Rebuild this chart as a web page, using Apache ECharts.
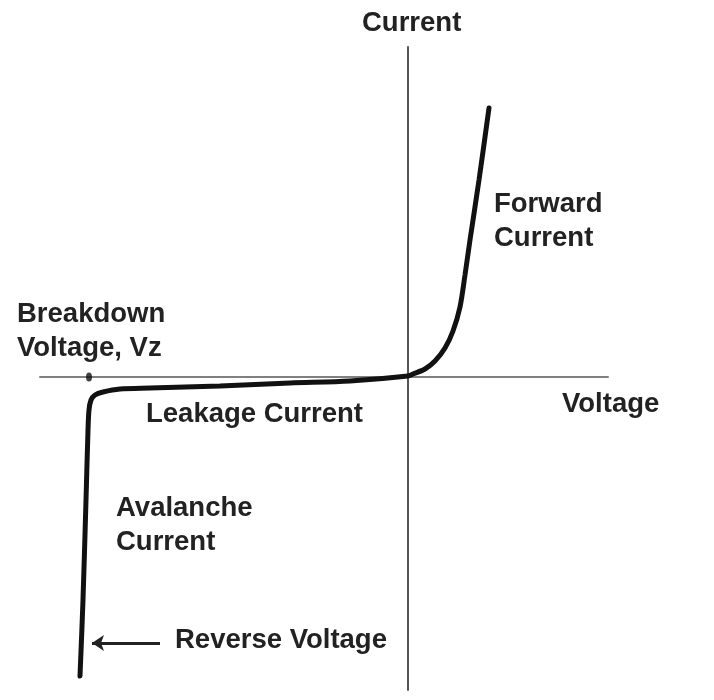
<!DOCTYPE html>
<html>
<head>
<meta charset="utf-8">
<script src="https://cdn.jsdelivr.net/npm/echarts@6/dist/echarts.min.js"></script>
<style>
  html, body { margin: 0; padding: 0; background: #fff; }
  #chart { width: 714px; height: 700px; }
</style>
</head>
<body>
<div id="chart"></div>
<script>
// diode I-V curve, arbitrary units (origin at the axes crossing)
const voltage = [-6.56, -6.50, -6.44, -6.40, -6.38, -6.34, -6.26, -6.10, -5.76, -5.16, -3.76, -2.36, -1.16, 0, 0.10, 0.34, 0.54, 0.74, 0.90, 1.04, 1.14, 1.24, 1.42, 1.62];
const current = [-5.98, -4.46, -2.46, -1.06, -0.66, -0.46, -0.36, -0.30, -0.24, -0.22, -0.18, -0.12, -0.08, 0.02, 0.06, 0.16, 0.32, 0.58, 0.92, 1.40, 2.04, 2.74, 3.94, 5.38];

const breakdownVz = [-6.38, 0];
const arrowFrom = [-4.96, -5.32];
const arrowTo = [-6.32, -5.32];

const xRange = [-7.36, 4.0];
const yRange = [-6.26, 6.6];

const font = 'bold 27.5px "Liberation Sans", Arial, sans-serif';
const textColor = '#222';

function label(text, x, y) {
    return {
        type: 'text',
        x: x,
        y: y,
        style: { text: text, font: font, fill: textColor, verticalAlign: 'middle', lineHeight: 34 }
    };
}

const chart = echarts.init(document.getElementById('chart'));
chart.setOption({
    animation: false,
    grid: { left: 40, right: 106, top: 47, bottom: 10 },
    xAxis: {
        type: 'value',
        min: xRange[0],
        max: xRange[1],
        axisLine: { onZero: true, lineStyle: { color: '#808080', width: 2 } },
        axisTick: { show: false },
        axisLabel: { show: false },
        splitLine: { show: false }
    },
    yAxis: {
        type: 'value',
        min: yRange[0],
        max: yRange[1],
        axisLine: { show: true, onZero: true, lineStyle: { color: '#555', width: 2 } },
        axisTick: { show: false },
        axisLabel: { show: false },
        splitLine: { show: false }
    },
    series: [
        {
            type: 'line',
            data: voltage.map((v, i) => [v, current[i]]),
            smooth: 0.3,
            symbol: 'none',
            lineStyle: { color: '#111', width: 5, cap: 'round' }
        },
        {
            type: 'scatter',
            data: [breakdownVz],
            symbol: 'circle',
            symbolSize: [6, 9],
            itemStyle: { color: '#111' }
        },
        {
            type: 'lines',
            coordinateSystem: 'cartesian2d',
            symbol: ['none', 'arrow'],
            symbolSize: [0, 12],
            lineStyle: { color: '#222', width: 3, opacity: 1 },
            data: [{ coords: [arrowFrom, arrowTo] }]
        }
    ],
    graphic: [
        label('Current', 362, 23),
        label('Forward\nCurrent', 494, 221),
        label('Voltage', 562, 404),
        label('Breakdown\nVoltage, Vz', 17, 331),
        label('Leakage Current', 146, 414),
        label('Avalanche\nCurrent', 116, 525),
        label('Reverse Voltage', 175, 640)
    ]
});
</script>
</body>
</html>
